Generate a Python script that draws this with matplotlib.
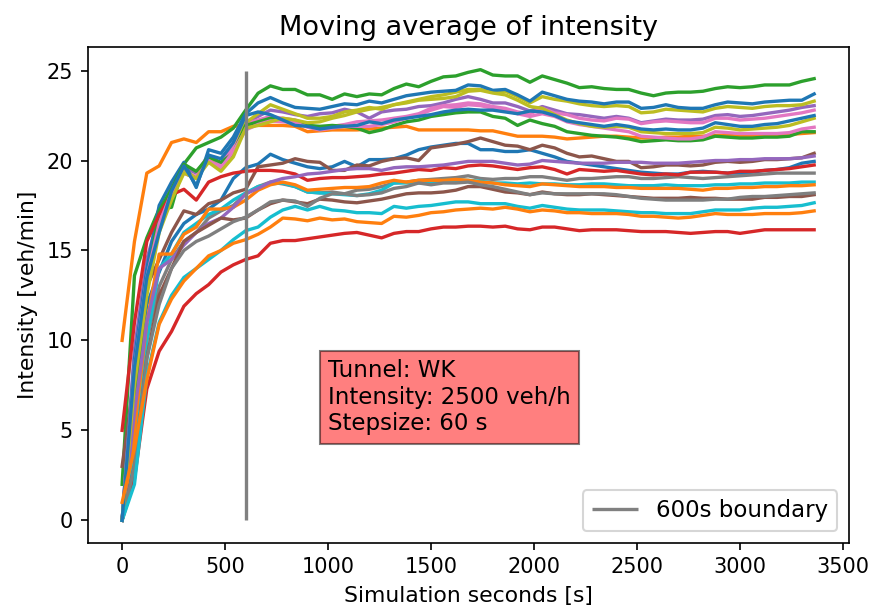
import matplotlib
matplotlib.use("Agg")
import matplotlib.pyplot as plt

seconds = list(range(0, 3361, 60))

blue_mid = [0, 7, 12, 13.8, 15.5, 16.5, 17.0, 17.3, 17.8, 19.0,
            19.6, 19.8, 20.35, 20.05, 19.85, 19.65, 19.55, 19.65, 19.95, 19.65,
            20.05, 20.05, 20.1, 20.3, 20.6, 20.75, 20.85, 20.95, 20.95, 20.6,
            20.6, 20.5, 20.5, 20.6, 20.4, 20.2, 19.95, 19.85, 19.75, 19.65,
            19.55, 19.45, 19.35, 19.3, 19.25, 19.25, 19.35, 19.4, 19.35, 19.3,
            19.3, 19.35, 19.45, 19.5, 19.6, 19.85, 19.95]
orange_top = [10, 15.5, 19.3, 19.7, 21.0, 21.2, 21.0, 21.6, 21.6, 21.9,
              21.95, 21.95, 21.95, 21.95, 21.9, 21.6, 21.65, 21.7, 21.7, 21.7,
              21.75, 21.8, 21.85, 21.9, 21.7, 21.7, 21.7, 21.7, 21.7, 21.65,
              21.65, 21.5, 21.35, 21.35, 21.35, 21.3, 21.2, 21.25, 21.3, 21.35,
              21.35, 21.3, 21.25, 21.25, 21.3, 21.3, 21.35, 21.35, 21.4, 21.4,
              21.35, 21.4, 21.4, 21.45, 21.45, 21.5, 21.55]
green_top = [2, 13.6, 15.7, 17.3, 17.4, 19.8, 20.7, 21.0, 21.3, 21.8,
             22.8, 23.74, 24.15, 23.95, 23.95, 23.65, 23.65, 23.4, 23.7, 23.55,
             23.7, 23.65, 24.0, 24.25, 24.1, 24.4, 24.65, 24.7, 24.9, 25.05,
             24.75, 24.7, 24.7, 24.35, 24.7, 24.5, 24.3, 24.05, 24.1, 24.0,
             23.95, 23.95, 23.75, 23.6, 23.75, 23.8, 23.8, 23.85, 24.0, 24.1,
             24.05, 24.1, 24.2, 24.2, 24.2, 24.4, 24.55]
red_low = [0, 2.3, 7.3, 9.4, 10.5, 11.9, 12.6, 13.1, 13.8, 14.2,
           14.5, 14.7, 15.4, 15.55, 15.55, 15.65, 15.75, 15.85, 15.95, 16.0,
           15.85, 15.7, 15.95, 16.05, 16.05, 16.2, 16.3, 16.3, 16.35, 16.35,
           16.3, 16.35, 16.2, 16.15, 16.3, 16.3, 16.2, 16.1, 16.15, 16.15,
           16.15, 16.1, 16.05, 16.05, 16.05, 16.0, 15.95, 16.0, 16.05, 16.05,
           15.95, 16.05, 16.15, 16.15, 16.15, 16.15, 16.15]
purple_top = [0, 9.5, 14.5, 17.0, 18.5, 19.6, 19.3, 20.3, 19.8, 20.8,
              22.1, 22.45, 22.8, 22.7, 22.55, 22.45, 22.6, 22.65, 22.85, 22.7,
              22.35, 22.7, 22.8, 22.85, 23.0, 23.05, 23.2, 23.4, 23.55, 23.4,
              23.2, 23.2, 23.0, 22.75, 23.0, 22.8, 22.6, 22.55, 22.45, 22.35,
              22.45, 22.35, 22.1, 22.2, 22.3, 22.25, 22.25, 22.3, 22.5, 22.55,
              22.45, 22.5, 22.6, 22.7, 22.8, 22.95, 23.05]
brown_top = [3, 8, 13, 14.5, 16.0, 17.2, 17.0, 17.6, 17.8, 18.2,
             18.4, 19.65, 19.75, 19.85, 20.1, 19.95, 19.9, 19.45, 19.45, 19.75,
             19.7, 19.95, 20.1, 20.15, 20.0, 20.7, 20.8, 20.9, 21.05, 21.25,
             21.05, 20.85, 20.8, 20.6, 20.85, 20.7, 20.4, 20.2, 20.25, 20.1,
             19.95, 19.95, 19.6, 19.65, 19.75, 19.75, 19.7, 19.75, 19.9, 19.95,
             19.9, 19.95, 20.05, 20.05, 20.1, 20.15, 20.4]
pink_top = [0, 9, 14, 16.8, 18.3, 19.4, 19.1, 20.2, 19.7, 20.7,
            22.05, 22.25, 22.45, 22.35, 22.25, 21.95, 21.85, 21.9, 22.0, 22.15,
            22.2, 22.25, 22.35, 22.45, 22.6, 22.9, 23.05, 23.1, 23.2, 23.15,
            23.0, 22.9, 22.7, 22.6, 22.9, 22.65, 22.55, 22.35, 22.25, 22.2,
            22.35, 22.3, 22.05, 22.15, 22.2, 22.15, 22.1, 22.1, 22.35, 22.35,
            22.25, 22.3, 22.35, 22.45, 22.55, 22.65, 22.8]
gray_top = [0, 5, 10, 13, 14.5, 15.5, 16.0, 16.8, 17.2, 17.5,
            18.15, 18.55, 18.8, 18.7, 18.55, 18.25, 18.2, 18.25, 18.15, 18.35,
            18.4, 18.55, 18.75, 18.8, 18.9, 18.95, 19.0, 19.05, 19.15, 19.0,
            18.95, 19.0, 19.0, 19.1, 19.1, 19.0, 18.9, 19.0, 19.0, 19.05,
            19.1, 19.1, 19.0, 19.0, 19.05, 19.1, 19.05, 19.0, 19.05, 19.1,
            19.15, 19.2, 19.25, 19.3, 19.3, 19.3, 19.3]
olive_top = [0, 8, 13, 16.5, 18.0, 19.5, 19.0, 20.1, 19.5, 20.4,
             22.1, 22.6, 23.1, 22.85, 22.6, 22.35, 22.35, 22.45, 22.7, 22.8,
             22.95, 22.85, 23.1, 23.25, 23.4, 23.55, 23.65, 23.8, 23.95, 23.95,
             23.8, 23.85, 23.55, 23.2, 23.55, 23.4, 23.3, 23.15, 23.05, 23.0,
             23.05, 23.0, 22.65, 22.7, 22.85, 22.8, 22.75, 22.7, 22.9, 23.0,
             22.95, 22.9, 23.0, 23.05, 23.05, 23.1, 23.3]
cyan_top = [0, 4, 10, 14.0, 14.8, 16.0, 16.5, 17.0, 17.3, 17.8,
            18.2, 18.55, 18.7, 18.75, 18.55, 18.25, 18.2, 18.15, 18.1, 18.05,
            18.15, 18.35, 18.75, 18.75, 18.75, 18.75, 18.9, 18.9, 18.9, 18.85,
            18.75, 18.75, 18.7, 18.75, 18.7, 18.7, 18.65, 18.65, 18.7, 18.7,
            18.65, 18.6, 18.6, 18.6, 18.65, 18.6, 18.6, 18.6, 18.65, 18.65,
            18.7, 18.7, 18.75, 18.75, 18.75, 18.8, 18.8]
blue_top = [0, 9, 14, 17.5, 18.8, 19.9, 18.5, 20.6, 20.4, 21.3,
            22.6, 23.2, 23.5, 23.2, 22.95, 22.9, 22.85, 23.0, 23.15, 23.1,
            23.3, 23.2, 23.4, 23.6, 23.7, 23.8, 23.85, 23.9, 24.2, 24.15,
            23.9, 23.95, 23.65, 23.3, 23.8, 23.6, 23.4, 23.3, 23.25, 23.15,
            23.25, 23.25, 22.9, 22.95, 23.1, 22.95, 22.9, 22.9, 23.1, 23.25,
            23.2, 23.15, 23.25, 23.3, 23.35, 23.35, 23.7]
orange_mid = [0, 5, 11, 14.8, 14.8, 15.9, 16.3, 17.3, 17.3, 17.4,
              17.8, 18.35, 18.65, 18.8, 18.65, 18.35, 18.4, 18.45, 18.5, 18.5,
              18.55, 18.75, 18.9, 18.8, 18.9, 18.9, 18.9, 18.95, 18.9, 18.8,
              18.75, 18.65, 18.6, 18.55, 18.7, 18.65, 18.6, 18.55, 18.55, 18.55,
              18.5, 18.5, 18.45, 18.45, 18.45, 18.45, 18.4, 18.35, 18.45, 18.45,
              18.5, 18.5, 18.55, 18.55, 18.6, 18.6, 18.65]
green_low = [0, 7, 13, 17.2, 18.4, 19.8, 19.4, 20.2, 19.9, 20.4,
             21.95, 22.15, 22.35, 22.25, 22.05, 21.95, 21.9, 21.95, 21.9, 21.8,
             21.55, 21.7, 21.95, 22.15, 22.25, 22.45, 22.55, 22.65, 22.7, 22.7,
             22.45, 22.35, 21.95, 22.25, 22.05, 21.9, 21.6, 21.5, 21.4, 21.35,
             21.3, 21.2, 21.05, 21.1, 21.15, 21.1, 21.1, 21.15, 21.35, 21.3,
             21.25, 21.25, 21.3, 21.3, 21.35, 21.6, 21.6]
red_mid = [5, 11, 15.5, 17.0, 18.1, 18.4, 17.8, 18.8, 19.1, 19.3,
           19.4, 19.45, 19.45, 19.4, 19.25, 18.9, 19.0, 19.05, 19.05, 19.1,
           19.15, 19.25, 19.3, 19.4, 19.5, 19.45, 19.6, 19.55, 19.7, 19.75,
           19.7, 19.6, 19.5, 19.6, 19.65, 19.5, 19.25, 19.5, 19.45, 19.4,
           19.45, 19.35, 19.25, 19.2, 19.25, 19.2, 19.35, 19.35, 19.35, 19.3,
           19.4, 19.4, 19.45, 19.5, 19.55, 19.65, 19.75]
purple_mid = [0, 6, 11, 14.0, 14.5, 15.3, 16.0, 16.5, 16.8, 17.4,
              18.15, 18.45, 18.8, 19.0, 19.1, 19.25, 19.3, 19.4, 19.5, 19.55,
              19.55, 19.45, 19.6, 19.65, 19.65, 19.7, 19.75, 19.85, 19.95, 19.95,
              19.95, 19.85, 19.75, 19.8, 20.0, 19.95, 19.9, 19.85, 19.85, 19.85,
              19.9, 19.9, 19.9, 19.85, 19.85, 19.85, 19.9, 19.95, 20.0, 20.0,
              20.05, 20.05, 20.1, 20.1, 20.1, 20.15, 20.25]
brown_low = [0, 3, 9, 12.5, 14.0, 15.5, 16.0, 16.4, 16.8, 16.7,
             16.8, 17.25, 17.6, 17.8, 17.7, 17.6, 17.85, 17.8, 17.7, 17.65,
             17.75, 17.85, 18.0, 18.15, 18.2, 18.2, 18.25, 18.35, 18.55, 18.55,
             18.4, 18.25, 18.2, 18.1, 18.25, 18.15, 18.1, 18.1, 18.15, 18.1,
             18.05, 18.0, 17.95, 17.9, 17.9, 17.9, 17.95, 17.9, 17.9, 17.85,
             17.85, 17.85, 17.95, 17.95, 18.0, 18.0, 18.1]
pink_low = [0, 8.5, 13.5, 16.5, 18.2, 19.3, 19.0, 20.0, 19.6, 20.5,
            21.7, 22.0, 22.2, 22.15, 22.1, 21.85, 21.7, 21.8, 21.9, 21.9,
            21.9, 22.0, 22.15, 22.35, 22.55, 22.8, 23.0, 22.95, 23.1, 23.05,
            22.9, 22.8, 22.6, 22.45, 22.6, 22.45, 22.15, 22.0, 21.9, 21.8,
            21.7, 21.6, 21.35, 21.3, 21.25, 21.2, 21.2, 21.3, 21.6, 21.55,
            21.5, 21.5, 21.5, 21.5, 21.55, 21.75, 21.85]
gray_low = [0, 3, 9, 12, 14, 15.0, 15.5, 15.8, 16.2, 16.6,
            16.85, 17.25, 17.7, 17.8, 17.75, 17.45, 17.9, 18.15, 18.15, 18.05,
            18.1, 18.2, 18.45, 18.55, 18.75, 18.65, 18.75, 18.75, 18.8, 18.65,
            18.55, 18.4, 18.25, 18.1, 18.2, 18.15, 18.15, 18.15, 18.15, 18.15,
            18.1, 18.0, 17.9, 17.85, 17.8, 17.8, 17.8, 17.8, 17.85, 17.85,
            17.95, 18.0, 18.0, 18.05, 18.1, 18.15, 18.2]
olive_low = [0, 7.5, 12.5, 16.0, 17.8, 19.3, 19.0, 19.9, 19.4, 20.2,
             21.8, 21.95, 22.15, 22.35, 22.25, 22.1, 22.15, 22.35, 22.5, 22.7,
             22.85, 22.95, 23.1, 23.2, 23.35, 23.4, 23.45, 23.55, 23.85, 23.9,
             23.75, 23.65, 23.35, 23.0, 22.9, 22.55, 22.25, 22.05, 21.9, 21.85,
             21.9, 21.85, 21.6, 21.55, 21.5, 21.5, 21.5, 21.55, 21.85, 21.8,
             21.7, 21.75, 21.8, 21.85, 21.95, 22.15, 22.35]
cyan_low = [0, 2, 8, 11, 12.5, 13.5, 14.0, 14.5, 15.0, 15.6,
            16.1, 16.3, 16.85, 17.25, 17.45, 17.25, 17.45, 17.25, 17.2, 17.1,
            17.1, 17.05, 17.45, 17.35, 17.45, 17.5, 17.6, 17.7, 17.7, 17.6,
            17.6, 17.6, 17.45, 17.35, 17.5, 17.4, 17.3, 17.25, 17.25, 17.25,
            17.2, 17.15, 17.1, 17.1, 17.05, 17.05, 17.05, 17.15, 17.25, 17.25,
            17.25, 17.35, 17.4, 17.4, 17.45, 17.5, 17.65]
blue_low = [0, 8.5, 13.5, 16.0, 18.3, 19.7, 18.6, 20.3, 20.1, 21.0,
            22.5, 22.7, 22.55, 22.25, 21.95, 21.9, 21.75, 21.85, 21.9, 21.95,
            22.15, 22.05, 22.25, 22.35, 22.45, 22.55, 22.7, 22.8, 22.85, 22.8,
            22.8, 22.7, 22.6, 22.75, 22.7, 22.5, 22.2, 22.1, 22.0, 21.9,
            22.0, 21.9, 21.75, 21.7, 21.75, 21.7, 21.7, 21.8, 22.1, 22.0,
            21.9, 21.9, 22.0, 22.05, 22.2, 22.35, 22.5]
orange_low = [1, 4, 7.8, 10.9, 12.3, 13.3, 14.0, 14.7, 15.0, 15.4,
              15.6, 15.9, 16.3, 16.8, 16.75, 16.65, 16.8, 16.7, 16.75, 16.6,
              16.55, 16.5, 16.9, 16.85, 16.95, 17.1, 17.15, 17.25, 17.3, 17.35,
              17.3, 17.4, 17.3, 17.15, 17.25, 17.2, 17.1, 17.1, 17.05, 17.05,
              17.05, 17.0, 16.9, 16.9, 16.85, 16.8, 16.85, 16.95, 17.05, 17.0,
              17.0, 17.0, 17.05, 17.05, 17.05, 17.1, 17.2]

series = [blue_mid, orange_top, green_top, red_low, purple_top, brown_top,
          pink_top, gray_top, olive_top, cyan_top, blue_top, orange_mid,
          green_low, red_mid, purple_mid, brown_low, pink_low, gray_low,
          olive_low, cyan_low, blue_low, orange_low]

boundary_x = 600
boundary_ymax = 25

fig = plt.figure(figsize=(875 / 150, 612 / 150), dpi=150)
ax = fig.add_subplot(111)
fig.subplots_adjust(left=0.100, right=0.970, top=0.923, bottom=0.113)

for s in series:
    ax.plot(seconds, s, linewidth=1.6)

ax.vlines(boundary_x, 0, boundary_ymax, colors='grey', linewidth=1.6,
          label='600s boundary')

ax.text(1000, 5, 'Tunnel: WK\nIntensity: 2500 veh/h\nStepsize: 60 s',
        fontsize=11, bbox=dict(facecolor='red', alpha=0.5))

ax.set_title('Moving average of intensity', fontsize=13)
ax.set_xlabel('Simulation seconds [s]', fontsize=10.5)
ax.set_ylabel('Intensity [veh/min]', fontsize=10.5)
ax.tick_params(labelsize=10)
ax.legend(loc='lower right', fontsize=11)

fig.savefig('out.png', dpi=150)
